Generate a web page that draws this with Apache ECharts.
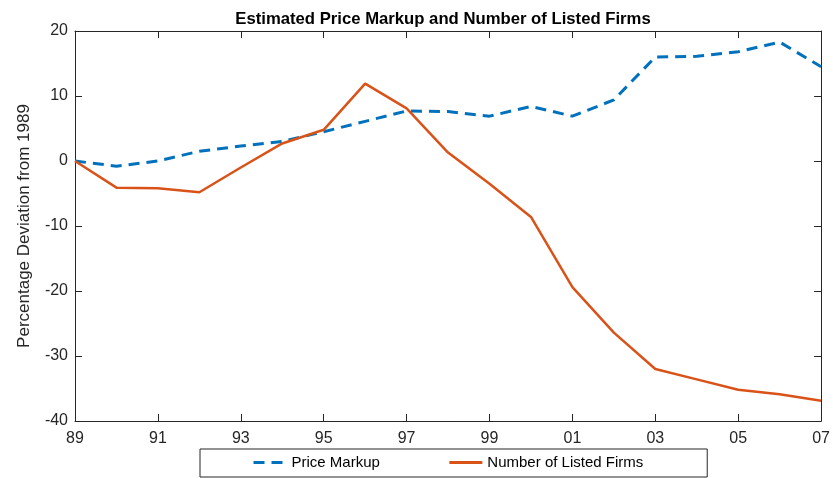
<!DOCTYPE html>
<html>
<head>
<meta charset="utf-8">
<script src="https://cdn.jsdelivr.net/npm/echarts@6/dist/echarts.min.js"></script>
<style>
html,body{margin:0;padding:0;background:#fff;}
#chart{width:833px;height:478px;}
</style>
</head>
<body>
<div id="chart"></div>
<script>
const years = ['89','90','91','92','93','94','95','96','97','98','99','00','01','02','03','04','05','06','07'];
const priceMarkup = [0, -0.8, 0, 1.5, 2.3, 3.0, 4.5, 6.1, 7.7, 7.6, 6.9, 8.4, 6.9, 9.4, 16.0, 16.1, 16.8, 18.3, 14.5];
const listedFirms = [0, -4.1, -4.2, -4.8, -1.0, 2.7, 4.8, 11.9, 8.1, 1.3, -3.5, -8.6, -19.4, -26.4, -32.0, -33.6, -35.2, -35.9, -36.9];
const yTicks = { min: -40, max: 20, interval: 10 };

const FONT = "'Liberation Sans', Arial, sans-serif";
const AX = '#262626';
const DASH = [11, 7];

const chart = echarts.init(document.getElementById('chart'));
chart.setOption({
  backgroundColor: '#fff',
  animation: false,
  title: {
    text: 'Estimated Price Markup and Number of Listed Firms',
    left: 438, top: 6, textAlign: 'center',
    textStyle: { fontFamily: FONT, fontWeight: 'bold', fontSize: 16.7, color: '#000' }
  },
  grid: { left: 75, right: 7, top: 31, bottom: 57, containLabel: false },
  legend: {
    left: 200, top: 449,
    padding: [6, 64, 7, 52],
    borderColor: AX, borderWidth: 1, borderRadius: 0,
    itemWidth: 33, itemHeight: 14, itemGap: 68,
    itemStyle: { opacity: 0 },
    textStyle: { fontFamily: FONT, fontSize: 15, color: '#000' },
    data: [
      { name: 'Price Markup', lineStyle: { type: DASH, width: 3, color: '#0072BD' } },
      { name: 'Number of Listed Firms', lineStyle: { width: 3, color: '#D95319' } }
    ]
  },
  xAxis: [{
    type: 'category', data: years, boundaryGap: false,
    axisLine: { onZero: false, lineStyle: { color: AX, width: 1 } },
    axisTick: { inside: true, length: 7, interval: 1, lineStyle: { color: AX } },
    axisLabel: { interval: 1, margin: 10, fontFamily: FONT, fontSize: 16, color: AX },
    splitLine: { show: false }
  }, {
    type: 'category', data: years, boundaryGap: false, position: 'top',
    axisLine: { onZero: false, lineStyle: { color: AX, width: 1 } },
    axisTick: { inside: true, length: 7, interval: 1, lineStyle: { color: AX } },
    axisLabel: { show: false },
    splitLine: { show: false }
  }],
  yAxis: [{
    type: 'value', min: yTicks.min, max: yTicks.max, interval: yTicks.interval,
    name: 'Percentage Deviation from 1989', nameLocation: 'middle', nameGap: 42,
    nameTextStyle: { fontFamily: FONT, fontSize: 17, color: AX },
    axisLine: { show: true, onZero: false, lineStyle: { color: AX, width: 1 } },
    axisTick: { show: true, inside: true, length: 7, lineStyle: { color: AX } },
    axisLabel: { margin: 7, fontFamily: FONT, fontSize: 16, color: AX },
    splitLine: { show: false }
  }, {
    type: 'value', min: yTicks.min, max: yTicks.max, interval: yTicks.interval, position: 'right',
    axisLine: { show: true, onZero: false, lineStyle: { color: AX, width: 1 } },
    axisTick: { show: true, inside: true, length: 7, lineStyle: { color: AX } },
    axisLabel: { show: false },
    splitLine: { show: false }
  }],
  series: [{
    name: 'Price Markup', type: 'line', data: priceMarkup,
    xAxisIndex: 0, yAxisIndex: 0,
    symbol: 'none', color: '#0072BD',
    lineStyle: { color: '#0072BD', width: 3, type: DASH }
  }, {
    name: 'Number of Listed Firms', type: 'line', data: listedFirms,
    xAxisIndex: 0, yAxisIndex: 0,
    symbol: 'none', color: '#D95319',
    lineStyle: { color: '#D95319', width: 2.5 }
  }]
});
</script>
</body>
</html>
